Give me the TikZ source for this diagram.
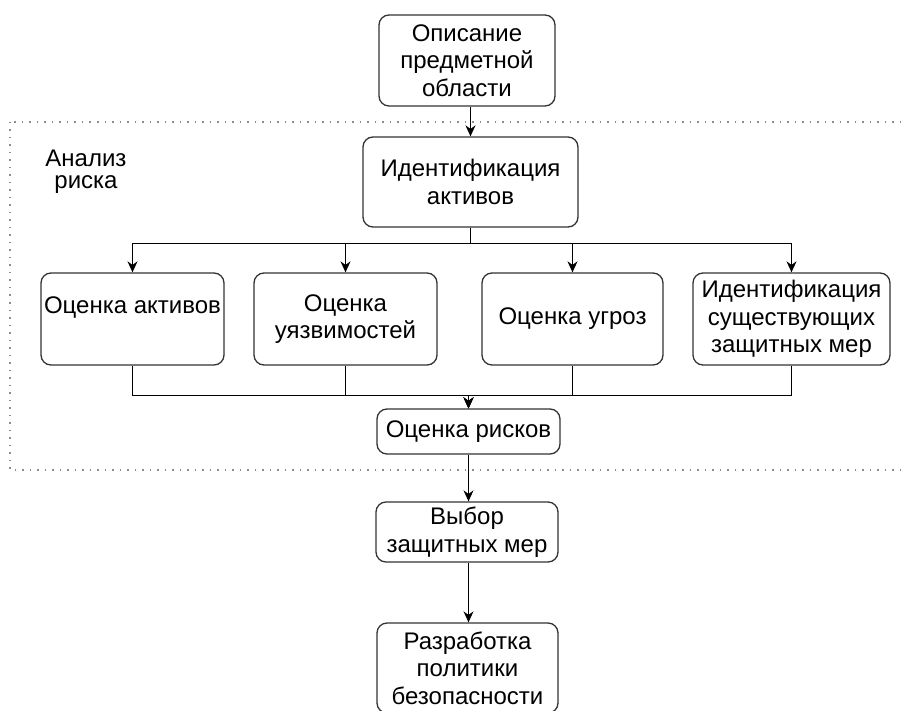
\documentclass[tikz,border=0pt]{standalone}
\usepackage{fontspec}
\setmainfont{Liberation Sans}
\usetikzlibrary{arrows.meta, positioning, calc}

\tikzset{
    blk/.style={draw=black!80, line width=1.3pt, rounded corners=10pt, align=center,
        inner sep=1pt, font=\fontsize{24}{27.5}\selectfont},
    ln/.style={line width=1.3pt},
    arr/.style={ln, -{Stealth[length=11pt, width=10pt]}}
}

\begin{document}
\begin{tikzpicture}[x=1pt, y=-1pt]

            \clip (0,0) rectangle (902,711);
            \useasboundingbox (0,0) rectangle (902,711);

            \draw[black!45, line width=1.5pt, dash pattern=on 1.5pt off 6pt] (10,122) rectangle (910,470);
            \node[align=center, inner sep=0pt, font=\fontsize{24}{22}\selectfont] (lbl) at (86,172) {Анализ\\риска};

            \node[blk, minimum width=176pt, minimum height=91pt] (opis) at (467,60.5) {Описание\\предметной\\области};
            \node[blk, minimum width=215pt, minimum height=90pt] (ident) at (470.5,182) {Идентификация\\активов};

            \foreach \n/\x/\w/\t in {1/132.5/183/{Оценка активов\\~}, 2/345.5/183/{Оценка\\уязвимостей},
                                     3/572.5/181/{Оценка угроз}, 4/791.5/197/{Идентификация\\существующих\\защитных мер}}{
                \node[blk, minimum width=\w pt, minimum height=92pt] (B\n) at (\x,319) {\t};
            }

            \node[blk, minimum width=183pt, minimum height=45pt] (risk) at (468.5,431.5) {Оценка рисков};
            \node[blk, minimum width=182pt, minimum height=60pt] (vybor) at (467,532) {Выбор\\защитных мер};
            \node[blk, minimum width=181pt, minimum height=90pt] (razr) at (467.5,668) {Разработка\\политики\\безопасности};

            \draw[arr] (ident.north |- opis.south) -- (ident.north);
            \foreach \n in {1, ..., 4}{
                \draw[arr] (ident.south) -- ++(0,16) -| (B\n.north);
                \draw[arr] (B\n.south) -- ++(0,30) -| (risk.north);
            }
            \draw[arr] (risk.south) -- (risk.south |- vybor.north);
            \draw[arr] (vybor.south -| risk.south) -- (razr.north -| risk.south);

        \end{tikzpicture}
\end{document}
